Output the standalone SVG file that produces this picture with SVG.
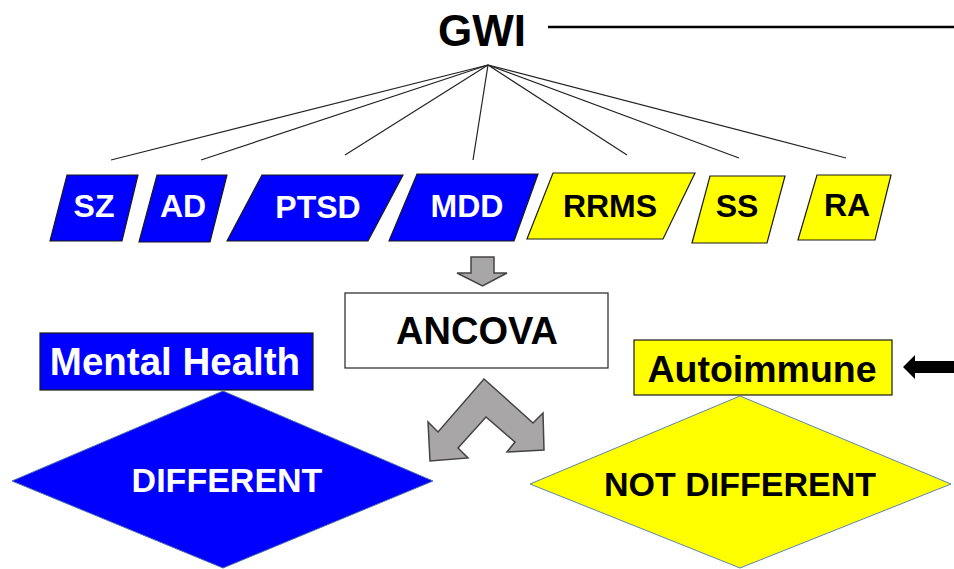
<svg xmlns="http://www.w3.org/2000/svg" width="954" height="569" viewBox="0 0 954 569">
<style>
text{font-family:"Liberation Sans",Arial,sans-serif;font-weight:bold;text-anchor:middle}
.blue{fill:#0000FF;stroke:#1a1a1a;stroke-width:1.2}
.yel{fill:#FFFF00;stroke:#1a1a1a;stroke-width:1.2}
.w{fill:#fff}
.k{fill:#000}
.fan line{stroke:#222;stroke-width:1.2}
.gray{fill:#A8A6A6;stroke:#444;stroke-width:1.5;stroke-linejoin:miter}
</style>
<rect width="954" height="569" fill="#fff"/>
<g id="gwi">
<text x="482" y="46" font-size="44" class="k">GWI</text>
<line x1="548" y1="27" x2="954" y2="27" stroke="#000" stroke-width="2.5"/>
</g>
<g id="connectors" class="fan">
<line x1="488" y1="65" x2="111" y2="160"/>
<line x1="488" y1="65" x2="201" y2="160"/>
<line x1="488" y1="65" x2="345" y2="155"/>
<line x1="488" y1="65" x2="473" y2="160"/>
<line x1="488" y1="65" x2="627" y2="155"/>
<line x1="488" y1="65" x2="739" y2="158"/>
<line x1="488" y1="65" x2="846" y2="158"/>
</g>
<g id="sz"><polygon class="blue" points="67,175 138,175 122,241 50,241"/><text x="94" y="217" font-size="32" class="w">SZ</text></g>
<g id="ad"><polygon class="blue" points="157,175 227,175 210,242 139,242"/><text x="183" y="217" font-size="32" class="w">AD</text></g>
<g id="ptsd"><polygon class="blue" points="262,175 403,175 368,241 227,241"/><text x="318" y="218" font-size="32" class="w">PTSD</text></g>
<g id="mdd"><polygon class="blue" points="417,174 538,174 514,241 389,241"/><text x="467" y="217" font-size="32" class="w">MDD</text></g>
<g id="rrms"><polygon class="yel" points="553,173 695,173 663,239 527,239"/><text x="610" y="217" font-size="32" class="k">RRMS</text></g>
<g id="ss"><polygon class="yel" points="710,176 785,176 767,243 692,243"/><text x="737" y="217" font-size="32" class="k">SS</text></g>
<g id="ra"><polygon class="yel" points="817,175 891,175 875,240 798,240"/><text x="847" y="216" font-size="32" class="k">RA</text></g>
<g id="arrow-down"><polygon class="gray" points="471,257 494,257 494,273 507,273 482.5,286 457,273 471,273"/></g>
<g id="ancova"><rect x="345" y="293" width="263" height="75" fill="#fff" stroke="#222" stroke-width="1.2"/><text x="477" y="344" font-size="38" class="k">ANCOVA</text></g>
<g id="split-arrow"><polygon class="gray" points="484,379 533,423 543,413 544,450 507,452 515,442 486,417 458,448 468,458 430,461 428,422 438,432"/></g>
<g id="mental-health"><rect x="40" y="333" width="273" height="57" class="blue"/><text x="175" y="375" font-size="38.5" class="w">Mental Health</text></g>
<g id="different"><polygon points="223,391 433,481 223,568 12,481" fill="#0000FF" stroke="#4a6fa5" stroke-width="1"/><text x="227" y="492" font-size="34" class="w">DIFFERENT</text></g>
<g id="autoimmune"><rect x="634" y="340" width="258" height="55" class="yel"/><text x="762" y="382" font-size="37.5" class="k">Autoimmune</text></g>
<g id="arrow-left"><polygon points="903,367 915,355 915,361 954,361 954,373 915,373 915,379" fill="#000"/></g>
<g id="not-different"><polygon points="740,396 951,484 740,568 530,484" fill="#FFFF00" stroke="#5b84b1" stroke-width="1"/><text x="740" y="496" font-size="34" class="k">NOT DIFFERENT</text></g>
</svg>
